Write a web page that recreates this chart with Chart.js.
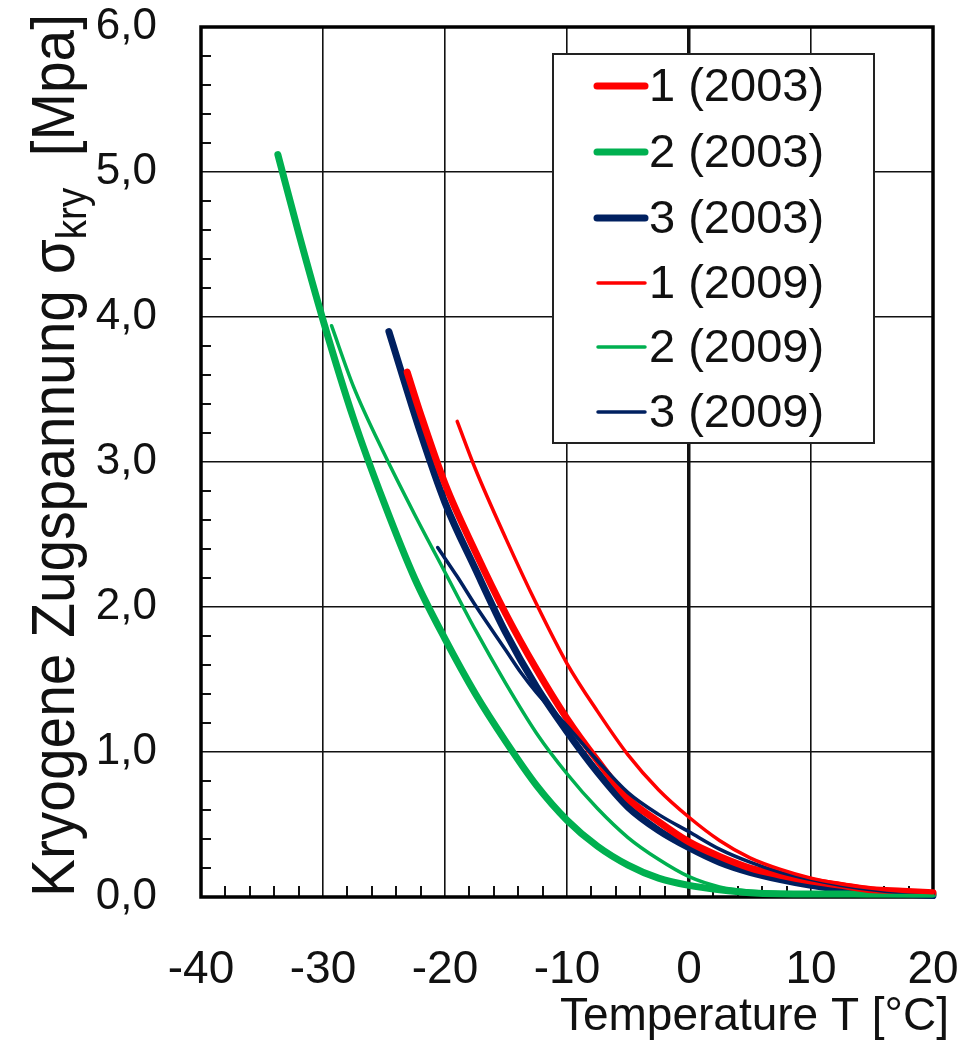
<!DOCTYPE html>
<html><head><meta charset="utf-8">
<script src="https://cdn.jsdelivr.net/npm/chart.js@4/dist/chart.umd.min.js"></script>
<style>html,body{margin:0;padding:0;background:#fff}#wrap{width:962px;height:1044px;position:relative}</style>
</head><body><div id="wrap"><canvas id="c" width="962" height="1044"></canvas></div>
<script>
// ---- data ----
const seriesNames = ['1 (2003)', '2 (2003)', '3 (2003)', '1 (2009)', '2 (2009)', '3 (2009)'];
const seriesColors = ['#ff0000', '#00b050', '#002060', '#ff0000', '#00b050', '#002060'];

const x1_2003 = [-23.1, -22, -20, -17.5, -15, -12.5, -10, -7.5, -5, -2.5, 0, 2.5, 5, 7.5, 10, 12.5, 15, 17.5, 20];
const y1_2003 = [3.62, 3.33, 2.85, 2.38, 1.95, 1.57, 1.23, 0.94, 0.68, 0.52, 0.38, 0.28, 0.20, 0.15, 0.11, 0.08, 0.05, 0.04, 0.03];

const x2_2003 = [-33.7, -32, -30, -27.5, -25, -22.5, -20, -17.5, -15, -12.5, -10, -7.5, -5, -2.5, 0, 2.5, 5, 10, 15, 20];
const y2_2003 = [5.12, 4.58, 3.98, 3.30, 2.72, 2.20, 1.78, 1.40, 1.07, 0.77, 0.53, 0.35, 0.22, 0.13, 0.08, 0.05, 0.03, 0.02, 0.02, 0.02];

const x3_2003 = [-24.6, -22, -20, -17.5, -15, -12.5, -10, -7.5, -5, -2.5, 0, 2.5, 5, 7.5, 10, 12.5, 15, 17.5, 20];
const y3_2003 = [3.90, 3.20, 2.72, 2.26, 1.82, 1.45, 1.14, 0.86, 0.62, 0.46, 0.34, 0.24, 0.17, 0.12, 0.08, 0.05, 0.03, 0.02, 0.01];

const x1_2009 = [-19, -17.5, -15, -12.5, -10, -7.5, -5, -2.5, 0, 2.5, 5, 7.5, 10, 12.5, 15, 17.5, 20];
const y1_2009 = [3.28, 2.95, 2.47, 2.02, 1.61, 1.28, 0.98, 0.74, 0.55, 0.39, 0.27, 0.19, 0.13, 0.09, 0.06, 0.04, 0.03];

const x2_2009 = [-29.3, -27.5, -25, -22.5, -20, -17.5, -15, -12.5, -10, -7.5, -5, -2.5, 0, 2.5, 5, 7.5, 10, 15, 20];
const y2_2009 = [3.94, 3.52, 3.06, 2.64, 2.24, 1.84, 1.47, 1.13, 0.85, 0.61, 0.41, 0.26, 0.14, 0.07, 0.04, 0.03, 0.02, 0.01, 0.01];

const x3_2009 = [-20.6, -19, -17.5, -15, -13.8, -12.5, -10, -7.5, -5, -2.5, 0, 2.5, 5, 7.5, 10, 12.5, 15, 17.5, 20];
const y3_2009 = [2.41, 2.21, 2.01, 1.70, 1.55, 1.41, 1.18, 0.94, 0.72, 0.57, 0.45, 0.33, 0.24, 0.17, 0.12, 0.08, 0.05, 0.03, 0.02];

const xTickLabels = ['-40', '-30', '-20', '-10', '0', '10', '20'];
const yTickLabels = ['0,0', '1,0', '2,0', '3,0', '4,0', '5,0', '6,0'];
const xTitle = 'Temperature T [°C]';
const yTitleParts = ['Kryogene Zugspannung σ', 'kry', '  [Mpa]'];

// ---- build ----
const xs = [x1_2003, x2_2003, x3_2003, x1_2009, x2_2009, x3_2009];
const ys = [y1_2003, y2_2003, y3_2003, y1_2009, y2_2009, y3_2009];
const widths = [7, 7, 7, 3.5, 3.5, 3.5];
const datasets = seriesNames.map((n, i) => ({
  label: n,
  data: xs[i].map((x, k) => ({x: x, y: ys[i][k]})),
  borderColor: seriesColors[i],
  backgroundColor: seriesColors[i],
  borderWidth: widths[i],
  pointRadius: 0,
  fill: false,
  cubicInterpolationMode: 'monotone',
  borderCapStyle: 'round',
  borderJoinStyle: 'round',
  clip: false,
  order: i < 3 ? 1 : 0
}));

const FONT = '"Liberation Sans", Arial, sans-serif';

const deco = {
  id: 'deco',
  beforeDatasetsDraw(chart) {
    const {ctx, chartArea: a, scales: {x, y}} = chart;
    ctx.save();
    ctx.strokeStyle = '#111';
    ctx.lineWidth = 2;
    ctx.beginPath();
    for (let v = -38; v < 20; v += 2) {
      if (v % 10 === 0) continue;
      const px = Math.round(x.getPixelForValue(v));
      ctx.moveTo(px, a.bottom); ctx.lineTo(px, a.bottom - 11);
    }
    for (let k = 1; k < 30; k++) {
      if (k % 5 === 0) continue;
      const py = Math.round(y.getPixelForValue(k * 0.2));
      ctx.moveTo(a.left, py); ctx.lineTo(a.left + 10, py);
    }
    ctx.stroke();
    ctx.lineWidth = 3.5;
    ctx.strokeStyle = '#000';
    ctx.strokeRect(a.left, a.top, a.right - a.left, a.bottom - a.top);
    ctx.restore();
  },
  afterDraw(chart) {
    const {ctx} = chart;
    ctx.save();
    // legend box
    const lx = 553, ly = 54, lw = 321, lh = 389;
    ctx.fillStyle = '#fff';
    ctx.fillRect(lx, ly, lw, lh);
    ctx.strokeStyle = '#222';
    ctx.lineWidth = 2;
    ctx.strokeRect(lx, ly, lw, lh);
    const rows = [86, 152, 218, 283, 347, 412];
    ctx.font = '47px ' + FONT;
    ctx.textBaseline = 'middle';
    ctx.textAlign = 'left';
    chart.data.datasets.forEach((d, i) => {
      const yy = rows[i];
      ctx.strokeStyle = d.borderColor;
      ctx.lineWidth = d.borderWidth;
      ctx.lineCap = 'round';
      ctx.beginPath();
      ctx.moveTo(i < 3 ? 597 : 598, yy); ctx.lineTo(645, yy);
      ctx.stroke();
      ctx.fillStyle = '#111';
      ctx.fillText(d.label, 649, yy + 2);
    });
    // x title
    ctx.font = '46px ' + FONT;
    ctx.textAlign = 'right';
    ctx.textBaseline = 'alphabetic';
    ctx.fillStyle = '#111';
    ctx.fillText(xTitle, 949, 1030);
    // y title
    const F = 62;
    const big = F + 'px ' + FONT, small = Math.round(F * 0.68) + 'px ' + FONT;
    ctx.font = big; const w1 = ctx.measureText(yTitleParts[0]).width;
    ctx.font = small; const w2 = ctx.measureText(yTitleParts[1]).width;
    ctx.font = big; const w3 = ctx.measureText(yTitleParts[2]).width;
    const sx = 883 / (w1 + w2 + w3);
    ctx.translate(74, 897);
    ctx.rotate(-Math.PI / 2);
    ctx.scale(sx, 1);
    ctx.textAlign = 'left';
    ctx.font = big; ctx.fillText(yTitleParts[0], 0, 0);
    ctx.font = small; ctx.fillText(yTitleParts[1], w1, F * 0.2);
    ctx.font = big; ctx.fillText(yTitleParts[2], w1 + w2, 0);
    ctx.restore();
  }
};

new Chart(document.getElementById('c'), {
  type: 'line',
  data: {datasets: datasets},
  plugins: [deco],
  options: {
    responsive: false,
    animation: false,
    layout: {padding: {top: 27, right: 29, left: 0, bottom: 0}},
    plugins: {legend: {display: false}, tooltip: {enabled: false}},
    scales: {
      x: {
        type: 'linear', min: -40, max: 20,
        afterFit: s => { s.height = 147; s.paddingLeft = 0; s.paddingRight = 0; },
        afterBuildTicks: s => { s.ticks = xTickLabels.map(t => ({value: Number(t)})); },
        ticks: {
          callback: (v) => xTickLabels[xTickLabels.indexOf(String(v))],
          font: {family: FONT, size: 46}, color: '#111', padding: 46, maxRotation: 0
        },
        grid: {color: '#111', lineWidth: c => (c.tick && c.tick.value === 0) ? 3.5 : 1.6, drawTicks: false},
        border: {display: false}
      },
      y: {
        type: 'linear', min: 0, max: 6,
        afterFit: s => { s.width = 201; s.paddingTop = 0; s.paddingBottom = 0; },
        afterBuildTicks: s => { s.ticks = yTickLabels.map((t, i) => ({value: i})); },
        ticks: {
          callback: (v) => yTickLabels[Math.round(v)],
          font: {family: FONT, size: 44}, color: '#111', padding: 44
        },
        grid: {color: '#111', lineWidth: 1.6, drawTicks: false},
        border: {display: false}
      }
    }
  }
});
</script>
</body></html>
